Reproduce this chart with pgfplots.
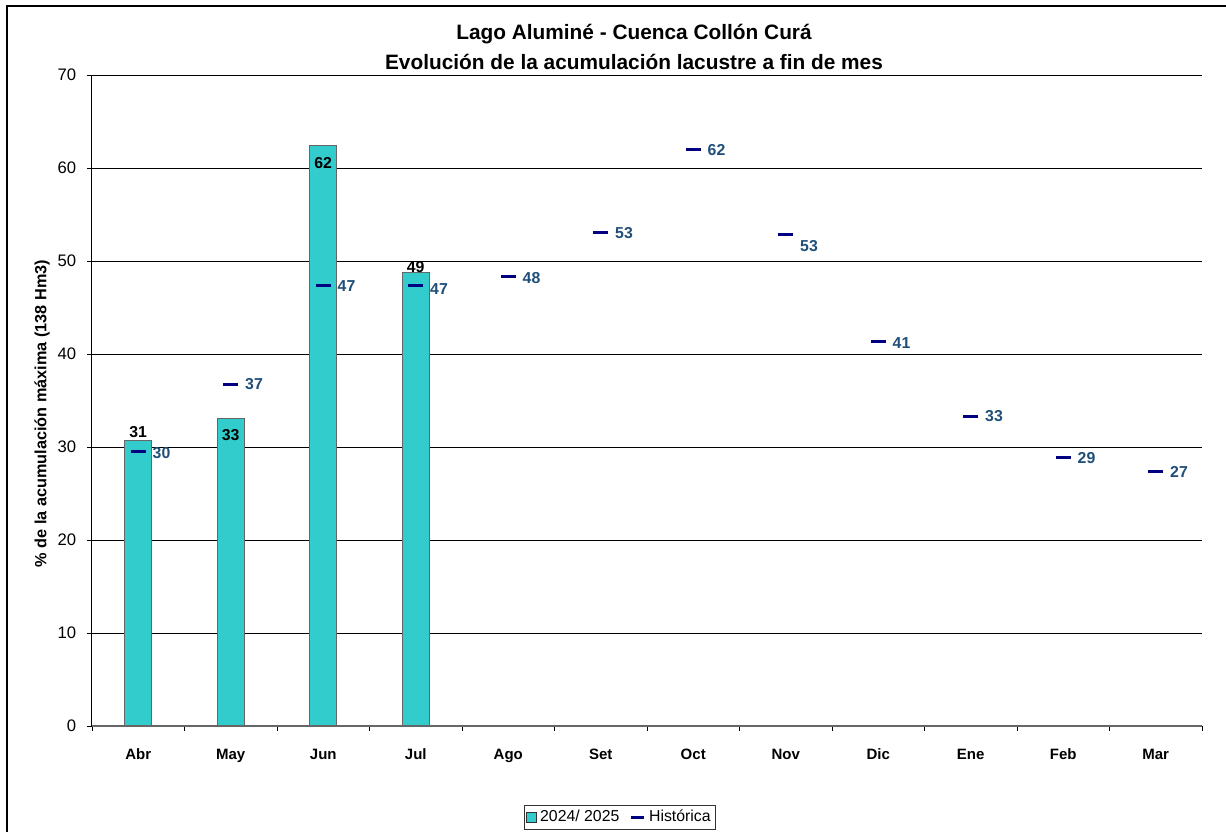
\documentclass[border=0pt]{standalone}
\usepackage{fontspec}
\setmainfont{Liberation Sans}
\usepackage{pgfplots}
\pgfplotsset{compat=1.18}
\usepackage{pgfplotstable}

\definecolor{barfill}{HTML}{33CCCC}
\definecolor{histo}{HTML}{000080}
\definecolor{histlbl}{HTML}{1F4E79}

% 2024/2025 bars: x, value, label, label shift (px)
\pgfplotstableread{
x  y     lbl dy
0  30.75 31  8
1  33.1  33  -17
2  62.4  62  -17
3  48.8  49  5
}\actual

% historic mean per month
\pgfplotstableread{
x  y    lbl dy
0  29.5 30  -1
1  36.7 37  1
2  47.4 47  -1
3  47.4 47  -4
4  48.3 48  -1
5  53.1 53  -1
6  62.0 62  -1
7  52.8 53  -11
8  41.3 41  -1
9  33.3 33  0
10 28.9 29  -1
11 27.4 27  -1
}\historica

\begin{document}
\begin{tikzpicture}[x=0.6pt,y=0.6pt]
\useasboundingbox (0,0) rectangle (1226,832);
\draw[line width=0.8pt] (7,-10) -- (7,826) -- (1240,826);

\begin{axis}[
at={(55.2pt,63.6pt)}, anchor=south west,
scale only axis,
width=666pt, height=390.6pt,
font=\fontsize{9}{11}\selectfont,
/pgf/number format/assume math mode=true,
xmin=-0.5, xmax=11.5,
ymin=0, ymax=70,
ytick={0,10,...,70},
yticklabel style={font=\fontsize{10}{12}\selectfont, xshift=-3pt},
xtick={-0.5,0.5,...,11.5},
xticklabels={Abr,May,Jun,Jul,Ago,Set,Oct,Nov,Dic,Ene,Feb,Mar},
x tick label as interval,
xticklabel style={font=\fontsize{9}{11}\selectfont\bfseries, text height=1.6ex, text depth=0.3ex, yshift=-5pt},
tick align=outside,
major tick length=3pt,
tick style={black, line width=0.5pt},
axis x line*=bottom,
axis y line*=left,
x axis line style={black!60, line width=0.8pt},
y axis line style={black, line width=0.6pt},
ymajorgrids,
major grid style={black, line width=0.5pt},
ylabel={\bfseries\% de la acumulación máxima (138 Hm3)},
ylabel style={at={(axis description cs:-0.045,0.48)}, anchor=center, font=\fontsize{9.75}{11}\selectfont},
legend columns=2,
legend style={at={(0.4757,-0.1398)}, anchor=center, draw=black!80,
  font=\fontsize{9.5}{11}\selectfont, inner sep=1pt,
  /tikz/every even column/.append style={column sep=4pt}},
]
\addlegendimage{legend image code/.code={\draw[fill=barfill, draw=black!80, line width=0.5pt] (0pt,-3pt) rectangle (6pt,3pt);}}
\addlegendentry{2024/ 2025}
\addlegendimage{legend image code/.code={\draw[histo, line width=1.8pt] (0pt,0pt) -- (8pt,0pt);}}
\addlegendentry{Histórica}

\addplot[forget plot, ybar, bar width=16.2pt, fill=barfill, draw=black!60, line width=0.6pt,
  point meta=explicit symbolic,
  visualization depends on={\thisrow{dy}\as\dy},
  nodes near coords,
  nodes near coords style={anchor=center, inner sep=0pt, yshift=0.6*\dy pt,
    font=\fontsize{9.5}{11}\selectfont\bfseries, black}]
  table[x=x, y=y, meta=lbl]{\actual};

\addplot[forget plot, only marks, mark=-, mark size=4.5pt,
  mark options={histo, line width=1.8pt},
  point meta=explicit symbolic,
  visualization depends on={\thisrow{dy}\as\dy},
  nodes near coords,
  nodes near coords style={anchor=west, inner sep=0pt, xshift=7.8pt, yshift=0.6*\dy pt,
    font=\fontsize{9.5}{11}\selectfont\bfseries, text=histlbl}]
  table[x=x, y=y, meta=lbl]{\historica};
\end{axis}

\node[font=\fontsize{12.5}{14}\selectfont\bfseries] at (634,798) {Lago Aluminé - Cuenca Collón Curá};
\node[font=\fontsize{12.5}{14}\selectfont\bfseries] at (634,770) {Evolución de la acumulación lacustre a fin de mes};
\end{tikzpicture}
\end{document}
